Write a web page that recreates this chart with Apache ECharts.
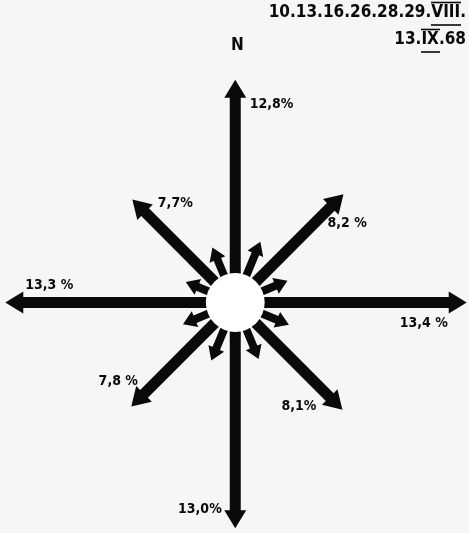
<!DOCTYPE html>
<html>
<head>
<meta charset="utf-8">
<title>Wind rose</title>
<style>
  html, body { margin: 0; padding: 0; background: #f6f6f6; }
  #chart { width: 469px; height: 533px; }
</style>
</head>
<body>
<div id="chart"></div>
<script src="https://cdn.jsdelivr.net/npm/echarts@6/dist/echarts.min.js"></script>
<script>
// compass directions, clockwise from north
const directions = ['N', 'NNE', 'NE', 'ENE', 'E', 'ESE', 'SE', 'SSE', 'S', 'SSW', 'SW', 'WSW', 'W', 'WNW', 'NW', 'NNW'];
// frequency (%) per direction, unlabelled ones
const frequencies = [12.8, 2.4, 8.2, 1.8, 13.4, 1.9, 8.1, 2.1, 13.0, 2.2, 7.8, 1.8, 13.3, 1.6, 7.7, 2.0];
const labelTexts = ['12,8%', '', '8,2 %', '', '13,4 %', '', '8,1%', '', '13,0%', '', '7,8 %', '', '13,3 %', '', '7,7%', ''];
const dateLines = ['10.13.16.26.28.29.VIII.', '13.IX.68'];
const northLabel = 'N';

const R0 = 1.95; // radius of the centre circle, in % units
const INK = '#0a0a0a';
const LABEL_FONT = 'bold 14px "DejaVu Sans Condensed", sans-serif';
const HEAD_FONT = 'bold 17px "DejaVu Sans Condensed", sans-serif';

// where each label sits relative to its arrow tip (pixels)
const labelPlace = {
  0: [14.5, 25, 'left'],
  2: [-16, 29, 'left'],
  4: [-43, 20.5, 'center'],
  6: [-26, -3, 'right'],
  8: [-13.5, -19, 'right'],
  10: [-13, -25, 'center'],
  12: [20, -17.5, 'left'],
  14: [25.5, 3.5, 'left']
};

const chart = echarts.init(document.getElementById('chart'), null, { renderer: 'canvas' });

function renderArrow(params, api) {
  const i = api.value(0);
  const v = api.value(1);
  const major = i % 2 === 0;
  const ang = i * 22.5 * Math.PI / 180;
  const c = api.coord([0, 0]);
  const t = api.coord([(R0 + v) * Math.sin(ang), (R0 + v) * Math.cos(ang)]);
  const dx = t[0] - c[0], dy = t[1] - c[1];
  const L = Math.sqrt(dx * dx + dy * dy);
  const ux = dx / L, uy = dy / L;
  const nx = -uy, ny = ux;
  const sw = major ? 11 : 8;
  const hw = major ? 22 : 17;
  const hl = major ? 18 : 13;
  const bx = t[0] - ux * hl, by = t[1] - uy * hl;
  const pts = [
    [c[0] + nx * sw / 2, c[1] + ny * sw / 2],
    [bx + nx * sw / 2, by + ny * sw / 2],
    [bx + nx * hw / 2, by + ny * hw / 2],
    [t[0], t[1]],
    [bx - nx * hw / 2, by - ny * hw / 2],
    [bx - nx * sw / 2, by - ny * sw / 2],
    [c[0] - nx * sw / 2, c[1] - ny * sw / 2]
  ];
  const children = [{
    type: 'polygon',
    shape: { points: pts },
    style: { fill: INK }
  }];
  const lp = labelPlace[i];
  if (lp && labelTexts[i]) {
    children.push({
      type: 'text',
      x: t[0] + lp[0],
      y: t[1] + lp[1],
      style: {
        text: labelTexts[i],
        font: LABEL_FONT,
        fill: INK,
        align: lp[2],
        verticalAlign: 'middle'
      }
    });
  }
  return { type: 'group', children: children };
}

function renderCircle(params, api) {
  const c = api.coord([0, 0]);
  const r = api.size([R0, R0])[0];
  return {
    type: 'circle',
    shape: { cx: c[0], cy: c[1], r: r },
    style: { fill: '#ffffff' }
  };
}

// over/underlines of the roman month numerals
function rule(x1, x2, y) {
  return {
    type: 'line',
    shape: { x1: x1, y1: y, x2: x2, y2: y },
    style: { stroke: INK, lineWidth: 1.6 }
  };
}

chart.setOption({
  backgroundColor: '#f6f6f6',
  animation: false,
  grid: { left: 1.5, top: 73, width: 468, height: 459 },
  xAxis: { type: 'value', min: -15.5, max: 15.5, show: false },
  yAxis: { type: 'value', min: -15.2, max: 15.2, show: false },
  graphic: [
    {
      type: 'text', right: 3, top: 4,
      style: { text: dateLines[0], font: HEAD_FONT, fill: INK }
    },
    {
      type: 'text', right: 3, top: 31,
      style: { text: dateLines[1], font: HEAD_FONT, fill: INK }
    },
    rule(431, 461, 2.5),
    rule(431, 461, 25),
    rule(421, 440, 29.5),
    rule(421, 440, 52),
    {
      type: 'text', left: 231, top: 37,
      style: { text: northLabel, font: HEAD_FONT, fill: INK }
    }
  ],
  series: [
    {
      type: 'custom',
      name: 'wind',
      renderItem: renderArrow,
      data: frequencies.map(function (v, i) { return [i, v, directions[i]]; }),
      z: 2
    },
    {
      type: 'custom',
      name: 'calm',
      renderItem: renderCircle,
      data: [[0, 0]],
      z: 3
    }
  ]
});
</script>
</body>
</html>
